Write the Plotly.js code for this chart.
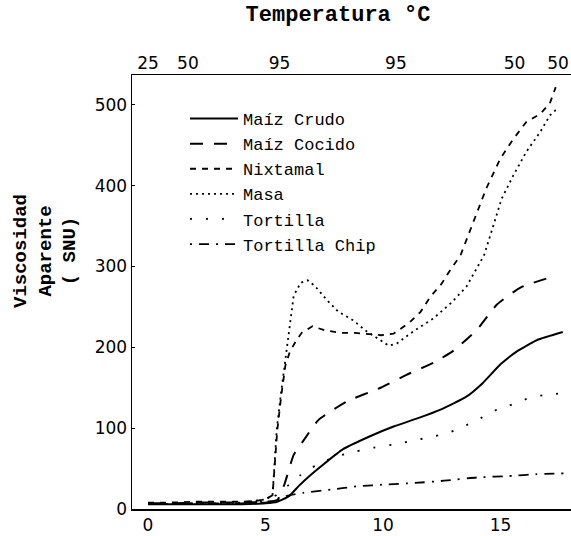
<!DOCTYPE html>
<html>
<head>
<meta charset="utf-8">
<script src="https://cdn.plot.ly/plotly-3.0.1.min.js"></script>
<style>html,body{margin:0;padding:0;background:#fff;}</style>
</head>
<body>
<div id="chart" style="width:571px;height:536px;"></div>
<script>
// Time (min) and apparent viscosity (SNU)
const tCrudo = [0, 1, 2, 3, 4, 5, 5.5, 6.0, 6.4, 6.8, 7.5, 8.3, 9.45, 10.45, 11.55, 12.45, 13.55, 14.25, 15.0, 15.7, 16.55, 17.65];
const vCrudo = [6, 6, 6, 6, 6, 7, 9, 16, 28, 39, 56, 74, 90, 102, 113, 123, 139, 156, 179, 195, 209, 219];

const tCocido = [0, 1, 2, 3, 4, 5, 5.5, 5.8, 6.2, 6.6, 7.25, 8.45, 9.9, 11.0, 12.15, 13.0, 14.0, 14.85, 15.85, 17.05];
const vCocido = [7, 7, 8, 8, 8, 9, 11, 30, 67, 84, 110, 133, 150, 166, 181, 196, 222, 253, 274, 286];

const tNixtamal = [0, 1, 2, 3, 4, 4.6, 5.0, 5.3, 5.4, 5.5, 5.67, 5.85, 6.04, 6.3, 6.54, 7.0, 7.55, 8.2, 8.8, 9.45, 9.95, 10.45, 11.1, 11.6, 12.0, 12.5, 12.8, 13.3, 13.85, 14.4, 15.0, 15.55, 16.1, 16.7, 17.1, 17.35];
const vNixtamal = [8, 8, 9, 9, 9, 10, 12, 17, 55, 97, 140, 178, 195, 208, 218, 226, 221, 218, 218, 216, 215, 217, 230, 244, 262, 279, 293, 314, 356, 397, 434, 458, 479, 489, 502, 522];

const tMasa = [0, 1, 2, 3, 4, 4.6, 5.0, 5.3, 5.4, 5.48, 5.65, 5.83, 6.04, 6.2, 6.5, 6.8, 7.1, 7.6, 8.1, 8.7, 9.3, 9.87, 10.25, 10.6, 11.3, 12.15, 12.9, 13.55, 14.0, 14.3, 14.7, 15.05, 15.55, 16.1, 16.7, 17.1, 17.4];
const vMasa = [6, 6, 7, 7, 8, 10, 12, 17, 58, 99, 141, 182, 223, 264, 280, 283, 276, 259, 244, 234, 220, 209, 202, 205, 220, 236, 255, 275, 298, 314, 351, 384, 413, 442, 467, 487, 495];

const tTortilla = [0, 1, 2, 3, 4, 5, 5.5, 6.0, 6.5, 7.2, 8.0, 8.8, 9.6, 10.7, 11.35, 12.2, 12.85, 13.35, 14.0, 14.85, 15.2, 15.8, 16.4, 16.95, 17.55];
const vTortilla = [6, 6, 6, 7, 7, 10, 18, 30, 42, 55, 65, 71, 76, 81, 85, 90, 95, 101, 110, 123, 126, 133, 139, 141, 143];

const tChip = [0, 1, 2, 3, 4, 5, 5.5, 5.9, 6.6, 7.8, 8.9, 10.2, 11.25, 12.6, 14.0, 15.5, 16.5, 17.7];
const vChip = [6, 6, 7, 7, 7, 8, 10, 16, 20, 24, 28, 30.5, 32, 35, 39, 41, 43, 44];

// Temperature axis (top)
const tempTickTimes = [0, 1.7, 5.6, 10.55, 15.6, 17.45];
const tempTickLabels = ['25', '50', '95', '95', '50', '50'];

const timeTicks = [0, 5, 10, 15];
const viscTicks = [0, 100, 200, 300, 400, 500];

const seriesNames = ['Maíz Crudo', 'Maíz Cocido', 'Nixtamal', 'Masa', 'Tortilla', 'Tortilla Chip'];

const monoFont = 'Liberation Mono, Courier New, monospace';
const sansFont = 'DejaVu Sans, Verdana, sans-serif';

function tr(x, y, name, dash, width, shape) {
  return {
    x: x, y: y, name: name, type: 'scatter', mode: 'lines',
    line: {color: '#000', width: width, dash: dash, shape: shape, smoothing: 0.5},
    xaxis: 'x', yaxis: 'y'
  };
}

const data = [
  tr(tCrudo, vCrudo, seriesNames[0], 'solid', 2, 'spline'),
  tr(tCocido, vCocido, seriesNames[1], '13px,11px', 2, 'spline'),
  tr(tNixtamal, vNixtamal, seriesNames[2], '6px,6px', 1.8, 'linear'),
  tr(tMasa, vMasa, seriesNames[3], '2px,4px', 1.8, 'linear'),
  tr(tTortilla, vTortilla, seriesNames[4], '2px,14px', 1.8, 'spline'),
  tr(tChip, vChip, seriesNames[5], '2px,7px,10px,7px', 1.8, 'spline'),
  // invisible trace to anchor the top temperature axis
  {x: tempTickTimes, y: tempTickTimes.map(() => null), xaxis: 'x2', yaxis: 'y', type: 'scatter', mode: 'lines', showlegend: false, hoverinfo: 'skip'}
];

const layout = {
  width: 571, height: 536,
  margin: {l: 132, r: 0, t: 75, b: 27},
  paper_bgcolor: '#fff', plot_bgcolor: '#fff',
  showlegend: true,
  title: {
    text: '<b>Temperatura °C</b>',
    font: {family: monoFont, size: 22, color: '#000'},
    x: 338 / 571, xanchor: 'center', xref: 'container',
    y: 1 - 13 / 536, yanchor: 'middle', yref: 'container'
  },
  xaxis: {
    range: [-0.68, 18.0],
    tickvals: timeTicks, ticktext: timeTicks.map(String),
    showgrid: false, zeroline: false,
    showline: true, linecolor: '#000', linewidth: 1.5,
    ticks: '', tickfont: {family: sansFont, size: 17, color: '#000'},
    fixedrange: true
  },
  xaxis2: {
    overlaying: 'x', side: 'top', anchor: 'y',
    range: [-0.68, 18.0],
    tickvals: tempTickTimes, ticktext: tempTickLabels,
    showgrid: false, zeroline: false,
    showline: true, linecolor: '#000', linewidth: 1.5,
    ticks: '', ticklabelstandoff: -2,
    tickfont: {family: sansFont, size: 17, color: '#000'},
    fixedrange: true
  },
  yaxis: {
    range: [0, 537],
    tickvals: viscTicks, ticktext: viscTicks.map(String),
    showgrid: false, zeroline: false,
    showline: true, linecolor: '#000', linewidth: 1.5,
    ticks: 'inside', ticklen: 3, tickcolor: '#000',
    tickfont: {family: sansFont, size: 17, color: '#000'},
    fixedrange: true
  },
  legend: {
    x: (185 - 132) / 439, xanchor: 'left',
    y: (509 - 101) / 434, yanchor: 'top',
    bgcolor: 'rgba(0,0,0,0)', borderwidth: 0,
    font: {family: monoFont, size: 17, color: '#000'},
    itemwidth: 48
  },
  annotations: [{
    text: '<b>Viscosidad<br>Aparente<br>( SNU)</b>',
    xref: 'paper', yref: 'paper',
    x: (45 - 132) / 439, y: (509 - 251) / 434,
    xanchor: 'center', yanchor: 'middle',
    textangle: -90, showarrow: false,
    font: {family: monoFont, size: 19, color: '#000'}
  }]
};

Plotly.newPlot('chart', data, layout, {displayModeBar: false, staticPlot: true});
</script>
</body>
</html>
